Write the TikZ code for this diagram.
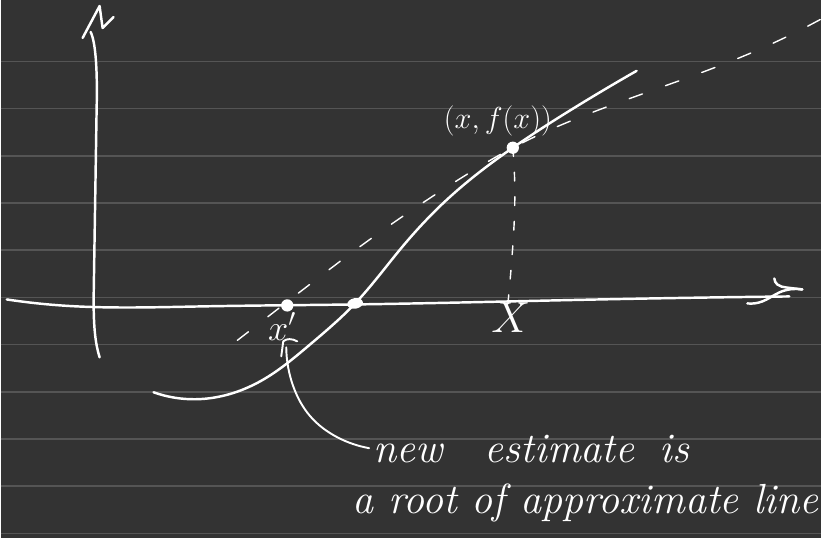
\documentclass[tikz,border=0pt]{standalone}
\usepackage{tikz}
\usetikzlibrary{hobby, calc, shapes.geometric}
\definecolor{board}{HTML}{333333}
\definecolor{ruling}{HTML}{555555}
\tikzset{
    ink/.style={white, line width=1.4pt, line cap=round, line join=round},
    fine ink/.style={white, line width=0.8pt, line cap=round},
    blob/.style={circle, fill=white, inner sep=0pt, minimum size=7pt},
    hand/.style={white, inner sep=0pt, font=\itshape\fontsize{24}{28}\selectfont}
}

\begin{document}
\begin{tikzpicture}[x=0.02cm, y=-0.02cm]
        % Page
        \fill[board] (0,0) rectangle (822,539);
        \foreach \k in {0,...,10}
            \draw[ruling, line width=0.9pt] (0,{61.5+47.3*\k}) -- (822,{61.5+47.3*\k});

        % Axes
        \draw[ink] (90,32) .. controls (95,42) and (97,70) .. (96,110)
            -- (93,300) .. controls (93,330) and (95,345) .. (99,358);
        \draw[ink] (82,38) -- (99,6) -- (102,28) -- (113,17);
        \draw[ink, use Hobby shortcut] (6,300)..(60,306)..(200,307)..(355,305)..(600,300)..(790,297);
        \draw[ink, use Hobby shortcut] (775,279)..(778,285)..(787,288)..(803,290);
        \draw[ink, use Hobby shortcut] (748,304)..(763,302)..(780,293)..(803,290);

        % Points
        \node[blob] (xnew) at (287,306) {};
        \node[blob, ellipse, minimum width=9pt, minimum height=6pt, rotate=10] (root) at (355,304) {};
        \node[blob] (pt) at (513,148) {};

        % Curve
        \coordinate (F1) at (153,393);
        \coordinate (F2) at (195,400);
        \coordinate (F3) at (260,382);
        \coordinate (F4) at (310,345);
        \coordinate (F5) at (400,250);
        \coordinate (F6) at (447,200);
        \coordinate (F7) at (573,109);
        \coordinate (F8) at (637,71);
        \draw[ink, use Hobby shortcut] (F1)..(F2)..(F3)..(F4)..(root.center)..(F5)..(F6)..(pt.center)..(F7)..(F8);

        % Approximate line
        \draw[fine ink, use Hobby shortcut, dash pattern=on 8pt off 14pt]
            (237,341)..(290,300)..(371,239)..(457,181)..(pt.center)..(632,98)..(761,49)..(822,19);
        \draw[fine ink, use Hobby shortcut, dash pattern=on 5pt off 9pt]
            (pt.center)..(515,200)..(512,260)..(508,305);

        % Labels
        \node[hand, font=\fontsize{16}{18}\selectfont] (ptlabel) at (498,121) {$(x,f(x))$};
        \node[hand, font=\fontsize{20}{22}\selectfont] (xprime) at (282,327) {$x'$};
        \node[hand, font=\fontsize{28}{30}\selectfont] (xlabel) at (511,318) {$X$};
        \node[hand, anchor=base west] (newtxt) at (373,463) {new\hspace{1em}estimate\hspace{0.6em}is};
        \node[hand, anchor=base west] (roottxt) at (352,514) {a root of approximate line};

        % Annotation
        \coordinate (tip) at ($(newtxt.base west)+(-4,-14)$);
        \draw[ink, line width=1.1pt] (281,357) -- (283,342) .. controls (286,339) and (292,339) .. (297,342);
        \draw[ink, line width=1.1pt, use Hobby shortcut] (286,348)..(293,387)..(310,417)..(337,438)..(tip);
    \end{tikzpicture}
\end{document}
